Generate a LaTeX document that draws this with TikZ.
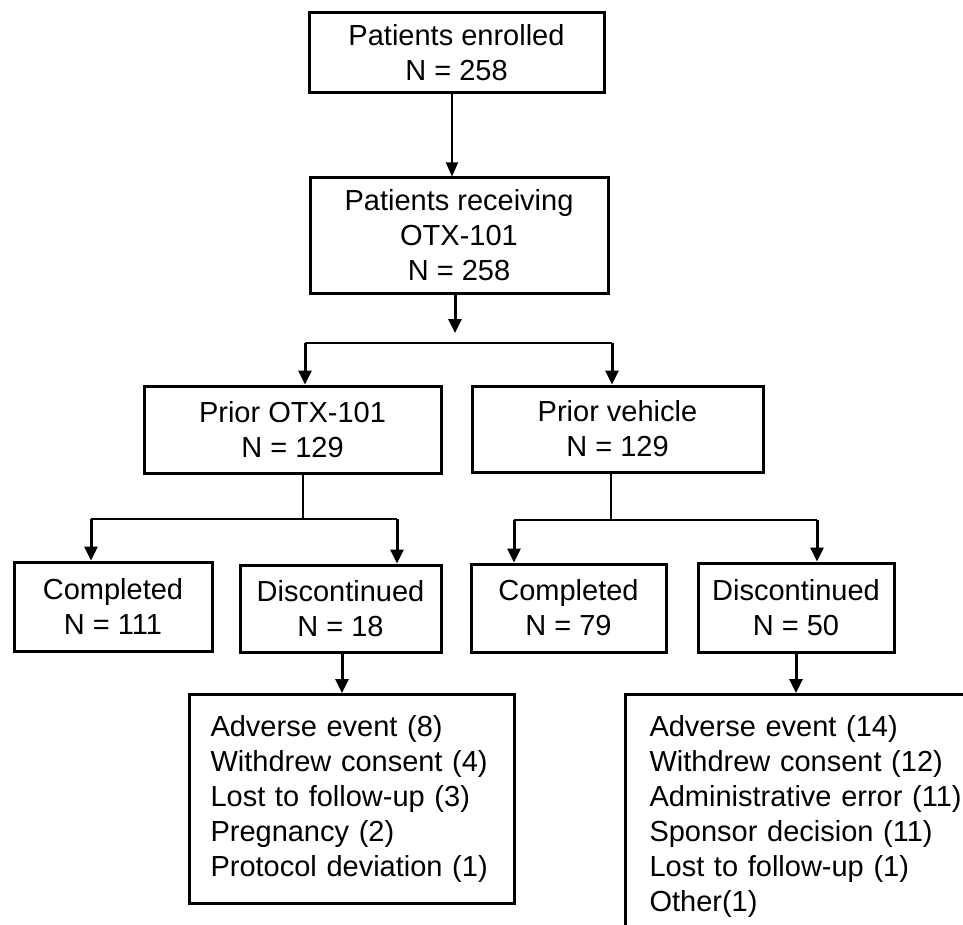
\documentclass[tikz,border=0pt]{standalone}
\usepackage{fontspec}
\setmainfont{Liberation Sans}
\usetikzlibrary{arrows.meta}
\begin{document}
\begin{tikzpicture}[x=1pt,y=-1pt,
  font=\fontsize{29}{35}\selectfont,
  box/.style={draw=black, line width=3pt, inner sep=0pt, align=center},
  reasons/.style={draw=black, line width=3pt, anchor=north west, align=left, inner ysep=21pt},
  thinarr/.style={line width=2pt, -{Triangle[length=14pt,width=12pt]}},
  thickarr/.style={line width=3pt, -{Triangle[length=14pt,width=13pt]}},
  branch/.style={line width=1.6pt}]
\useasboundingbox (0,0) rectangle (963,925);
\fill[white] (0,0) rectangle (963,925);
\clip (0,0) rectangle (963,925);

% boxes
\node[box, minimum width=295pt, minimum height=80pt] (b1) at (456.5,53) {Patients enrolled\\N = 258};
\node[box, minimum width=298pt, minimum height=115pt] (b2) at (459,235.5) {Patients receiving\\OTX-101\\N = 258};
\node[box, minimum width=297pt, minimum height=87pt] (b3) at (292.5,429.5) {Prior OTX-101\\N = 129};
\node[box, minimum width=291pt, minimum height=86pt] (b4) at (617.5,429) {Prior vehicle\\N = 129};
\node[box, minimum width=198pt, minimum height=89pt] (c1) at (113,606.5) {Completed\\N = 111};
\node[box, minimum width=201pt, minimum height=87pt] (d1) at (340.5,608.5) {Discontinued\\N = 18};
\node[box, minimum width=195pt, minimum height=88pt] (c2) at (568.5,608) {Completed\\N = 79};
\node[box, minimum width=196pt, minimum height=89pt] (d2) at (796,607.5) {Discontinued\\N = 50};
\node[reasons, text width=283pt, inner xsep=21pt] (r1) at (188,693)
  {Adverse event (8)\\Withdrew consent (4)\\Lost to follow-up (3)\\Pregnancy (2)\\Protocol deviation (1)};
\node[reasons, text width=400pt, inner xsep=24pt] (r2) at (624,693)
  {Adverse event (14)\\Withdrew consent (12)\\Administrative error (11)\\Sponsor decision (11)\\Lost to follow-up (1)\\Other(1)};

% junction coordinates
\coordinate (x1) at (452,0);
\coordinate (j1) at (455,333);
\coordinate (h1l) at (305,343);
\coordinate (h1r) at (612,343);
\coordinate (v3) at (303,519);
\coordinate (h3l) at (91,519);
\coordinate (h3r) at (397,519);
\coordinate (v4) at (611,520);
\coordinate (h4l) at (514,520);
\coordinate (h4r) at (817,520);
\coordinate (x5) at (342,0);
\coordinate (x6) at (796,0);

% connectors
\draw[thinarr] (b1.south -| x1) -- (b2.north -| x1);
\draw[thickarr] (b2.south -| j1) -- (j1);
\draw[branch] (h1l) -- (h1r);
\draw[thickarr] (h1l) -- (b3.north -| h1l);
\draw[thickarr] (h1r) -- (b4.north -| h1r);

\draw[branch] (b3.south -| v3) -- (v3);
\draw[branch] (h3l) -- (h3r);
\draw[thickarr] (h3l) -- (c1.north -| h3l);
\draw[thickarr] (h3r) -- (d1.north -| h3r);

\draw[branch, line width=1.2pt] (b4.south -| v4) -- (v4);
\draw[branch] (h4l) -- (h4r);
\draw[thickarr] (h4l) -- (c2.north -| h4l);
\draw[thickarr] (h4r) -- (d2.north -| h4r);

\draw[thickarr] (d1.south -| x5) -- (r1.north -| x5);
\draw[thickarr] (d2.south -| x6) -- (r2.north -| x6);
\end{tikzpicture}
\end{document}
